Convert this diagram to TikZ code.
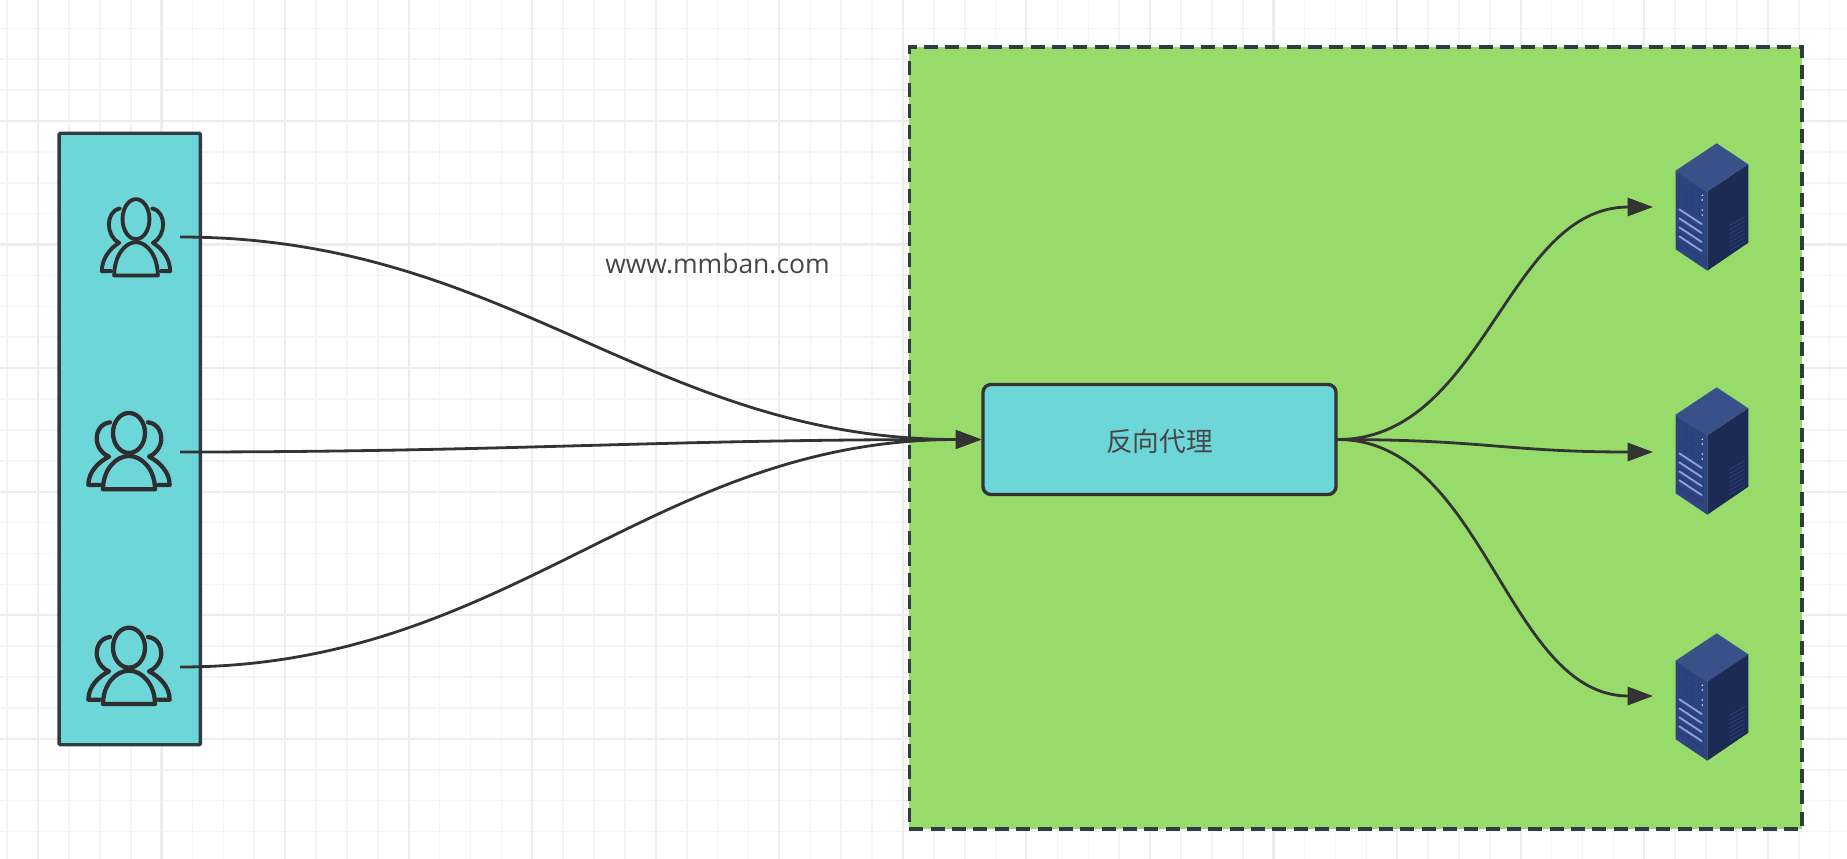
\documentclass[tikz,border=0pt]{standalone}
\usepackage{fontspec}
\setmainfont{Open Sans}
\newfontfamily\cjkfont{Noto Sans CJK SC}
\usetikzlibrary{arrows.meta}
\definecolor{teal1}{HTML}{6DD6D8}
\definecolor{green1}{HTML}{97DB6B}
\definecolor{ink}{HTML}{333333}
\definecolor{edge1}{HTML}{323A42}
\definecolor{gridmaj}{HTML}{EDEDED}
\definecolor{gridmin}{HTML}{F4F4F4}
\definecolor{srvtop}{HTML}{3A5088}
\definecolor{srvleft}{HTML}{2E4480}
\definecolor{srvright}{HTML}{1B2B54}
\definecolor{srvlight}{HTML}{8E9FE6}
\definecolor{srvmid}{HTML}{2A3E78}
\definecolor{srvvent}{HTML}{29396E}
\tikzset{
  userbox/.style={draw=edge1,fill=teal1,line width=2.6pt,rounded corners=1pt,inner sep=0pt,minimum width=106pt,minimum height=458.6pt},
  zonebox/.style={draw=edge1,fill=green1,line width=2.8pt,inner sep=0pt,dash pattern=on 10.5pt off 5.5pt,minimum width=669.4pt,minimum height=586.5pt},
  proxybox/.style={draw=ink,fill=teal1,line width=2.5pt,rounded corners=6pt,inner sep=0pt,minimum width=264.8pt,minimum height=82.5pt},
  conn/.style={draw=ink,line width=2.1pt,-{Triangle[length=19pt,width=13.5pt]}},
  proxylabel/.style={font=\cjkfont\fontsize{20}{24}\selectfont,text=black!72,inner sep=0pt},
  sitelabel/.style={font=\fontsize{19.85}{24}\selectfont,text=black!72,inner sep=0pt},
  iconline/.style={draw=black!82,line width=#1,line cap=round,line join=round}
}
% person icon: local units are zoomed pixels
\newcommand{\usersicon}[5]{%
  \begin{scope}[shift={(#1,#2)},xscale=#3,yscale=#4,iconline=#5]
    \draw (0,-61) ellipse [x radius=48,y radius=60];
    \draw (-78,108) .. controls (-78,50) and (-40,8) .. (0,8) .. controls (40,8) and (78,50) .. (78,108) -- cycle;
    \draw (-57,-93) .. controls (-85,-90) and (-97,-65) .. (-97,-45) .. controls (-97,-25) and (-85,0) .. (-60,10) .. controls (-90,25) and (-122,55) .. (-122,95) -- (-88,95);
    \draw (57,-93) .. controls (85,-90) and (97,-65) .. (97,-45) .. controls (97,-25) and (85,0) .. (60,10) .. controls (90,25) and (122,55) .. (122,95) -- (88,95);
  \end{scope}}
% server icon: local units are zoomed pixels, origin at top-left of the crop
\newcommand{\servericon}[2]{%
  \begin{scope}[shift={(#1,#2)},scale=1/3]
    \fill[srvtop] (230,70) -- (325,133) -- (202,215) -- (107,152) -- cycle;
    \fill[srvleft] (107,152) -- (202,215) -- (202,452) -- (107,388) -- cycle;
    \fill[srvright] (202,215) -- (325,133) -- (325,368) -- (202,452) -- cycle;
    \foreach \k in {0,1,2,3,4,5}
      \draw[srvmid,line width=0.35pt] (112,{170+\k*18}) -- (178,{214+\k*18});
    \foreach \k in {0,1,2,3}
      \draw[srvmid,line width=0.35pt] ({118+\k*20},{166+\k*13}) -- ({118+\k*20},{255+\k*13});
    \foreach \k in {0,1,2,3}{
      \draw[srvmid,line width=1.5pt] (112,{283+\k*27}) -- (192,{335+\k*27});
      \draw[srvlight,line width=1.4pt,line cap=round] (118,{268+\k*27}) -- (185,{312+\k*27});
    }
    \draw[srvmid,line width=0.35pt] (112,375) -- (198,432);
    \foreach \k in {0,...,6}
      \draw[srvvent,line width=1pt] (268,{317+\k*12.5}) -- (315,{290+\k*12.5});
    \foreach \yy in {226,240,270,285}
      \fill[white!70!srvlight] (187,\yy) circle (2.6);
  \end{scope}}
\begin{document}
\begin{tikzpicture}[x=0.75pt,y=-0.75pt]
\useasboundingbox (0,0) rectangle (1847,859);
\fill[white] (0,0) rectangle (1847,859);
% background grid
\foreach \i in {-1,...,59}{
  \draw[gridmin,line width=1.2pt] ({7.15+\i*30.89},0) -- ({7.15+\i*30.89},859);
}
\foreach \i in {-1,...,28}{
  \draw[gridmin,line width=1.2pt] (0,{-2.55+\i*30.89}) -- (1847,{-2.55+\i*30.89});
}
\foreach \i in {0,...,14}{
  \draw[gridmaj,line width=1.6pt] ({38+\i*123.55},0) -- ({38+\i*123.55},859);
}
\foreach \i in {0,...,7}{
  \draw[gridmaj,line width=1.6pt] (0,{-2.55+\i*123.55}) -- (1847,{-2.55+\i*123.55});
}
% containers
\node[zonebox] (zone) at (1355.75,438) {};
\node[userbox] (users) at (129.75,439) {};
\node[proxybox] (proxy) at (1159.5,439.5) {};
\node[proxylabel] (proxytext) at (1159.5,441) {反向代理};
\node[sitelabel,anchor=base] (site) at (717.5,273) {www.mmban.com};
% icons
\usersicon{136}{239.5}{0.28}{0.3333}{2.9pt}
\usersicon{129}{453.3}{0.3333}{0.3333}{3.2pt}
\usersicon{129}{668}{0.3333}{0.3333}{3.2pt}
\servericon{1640}{120}
\servericon{1640}{364}
\servericon{1640}{610}
% connector free ends
\coordinate (u1) at (180,237);
\coordinate (u2) at (180,452);
\coordinate (u3) at (180,667);
\coordinate (s1) at (1653,207);
\coordinate (s2) at (1653,452);
\coordinate (s3) at (1653,696);
% connectors
\draw[conn] (u1) to[out=0,in=180,distance=247.5pt] (proxy.west);
\draw[conn] (u2) to[out=0,in=180,distance=247.5pt] (proxy.west);
\draw[conn] (u3) to[out=0,in=180,distance=247.5pt] (proxy.west);
\draw[conn] (proxy.east) to[out=0,in=180,distance=110pt] (s1);
\draw[conn] (proxy.east) to[out=0,in=180,distance=110pt] (s2);
\draw[conn] (proxy.east) to[out=0,in=180,distance=110pt] (s3);
\end{tikzpicture}
\end{document}
